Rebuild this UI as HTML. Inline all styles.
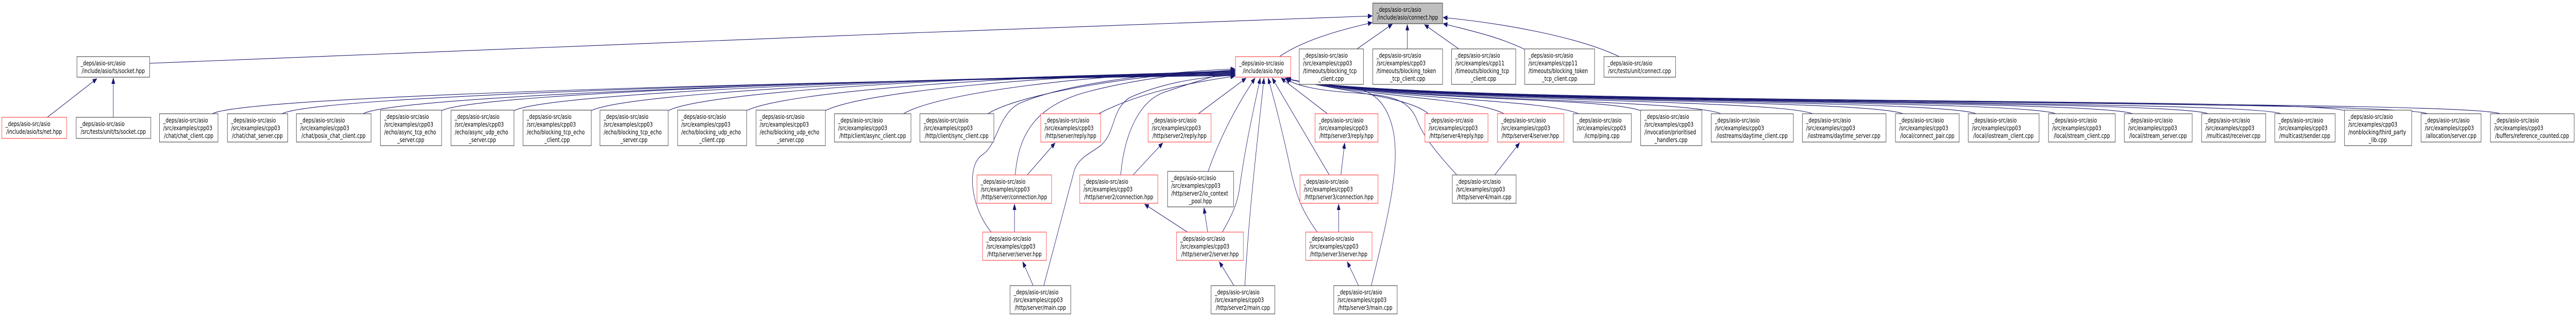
<!DOCTYPE html>
<html><head><meta charset="utf-8"><style>
html,body{margin:0;padding:0;background:#fff;width:100%;height:100%;overflow:hidden;}
svg{display:block;width:100vw;height:100vh;}
text{font-family:"DejaVu Sans","Liberation Sans",sans-serif;font-size:12.6px;fill:#000;}
.c{text-anchor:middle;}
.b{fill:#fff;stroke:#505050;stroke-width:1.2;}
.r{fill:#fff;stroke:#ff4a4a;stroke-width:1.2;}
.g{fill:#bfbfbf;stroke:#404040;stroke-width:1.2;}
path.e{fill:none;stroke:#191970;stroke-width:1.1;marker-end:url(#a);}
</style></head><body>
<svg viewBox="0 0 6866 616" preserveAspectRatio="none" xmlns="http://www.w3.org/2000/svg">
<defs><marker id="a" markerUnits="userSpaceOnUse" markerWidth="12" markerHeight="9" refX="11" refY="4.5" orient="auto"><path d="M0,0 L11,4.5 L0,9 z" fill="#191970" stroke="#191970"/></marker></defs>

<!-- edges -->
<path class="e" d="M399,123 C1200,95 2600,60 3657,31"/>
<path class="e" d="M3410,110 C3470,80 3560,60 3657,44"/>
<path class="e" d="M3617,95 L3711,47"/>
<path class="e" d="M3751,95 L3751,48"/>
<path class="e" d="M3888,95 L3797,48"/>
<path class="e" d="M4064,96 C3990,70 3920,60 3847,46"/>
<path class="e" d="M4316,110 C4200,70 4000,45 3847,34"/>
<path class="e" d="M126,228 L258,153"/>
<path class="e" d="M302,228 L302,152"/>

<path class="e" d="M566,221 C666,181 2600,152 3291,147"/>
<path class="e" d="M752,221 C852,181 2600,151 3291,146"/>
<path class="e" d="M968,221 C1068,181 2600,150 3291,145"/>
<path class="e" d="M1177,215 C1277,178 2600,149 3291,144"/>
<path class="e" d="M1370,215 C1470,178 2600,148 3291,143"/>
<path class="e" d="M1576,215 C1676,178 2600,147 3291,142"/>
<path class="e" d="M1781,215 C1881,178 2600,146 3291,141"/>
<path class="e" d="M1990,215 C2090,178 2700,145 3291,140"/>
<path class="e" d="M2200,215 C2300,178 2800,144 3291,139"/>
<path class="e" d="M2408,221 C2500,181 2900,143 3291,138"/>
<path class="e" d="M2633,221 C2720,181 3050,142 3291,137"/>
<path class="e" d="M2928,221 C3050,175 3200,158 3291,148"/>
<path class="e" d="M2706,340 C2715,260 2760,205 2900,178 C3050,150 3200,140 3291,136"/>
<path class="e" d="M2738,340 L2812,278"/>
<path class="e" d="M2704,451 L2704,397"/>
<path class="e" d="M2642,451 C2585,400 2575,320 2620,300 C2660,280 2660,220 2720,200 C2850,160 3100,140 3291,134"/>
<path class="e" d="M2754,555 L2726,509"/>
<path class="e" d="M2782,555 L2862,335 C2870,310 2900,300 2930,285 C2975,260 2960,215 3010,190 C3100,160 3200,150 3291,146"/>
<path class="e" d="M3194,221 L3321,152"/>
<path class="e" d="M2987,340 C2995,270 3030,200 3100,180 C3180,160 3250,145 3291,137"/>
<path class="e" d="M3020,340 L3099,278"/>
<path class="e" d="M3220,333 C3260,250 3310,190 3345,152"/>
<path class="e" d="M3165,451 L3051,397"/>
<path class="e" d="M3219,451 L3209,404"/>
<path class="e" d="M3258,451 C3290,410 3300,390 3305,360 C3320,280 3345,200 3359,152"/>
<path class="e" d="M3289,555 L3250,509"/>
<path class="e" d="M3318,555 C3330,400 3355,250 3369,152"/>
<path class="e" d="M3538,221 L3415,152"/>
<path class="e" d="M3543,340 L3391,152"/>
<path class="e" d="M3574,340 L3584,278"/>
<path class="e" d="M3568,451 L3568,397"/>
<path class="e" d="M3511,451 C3470,410 3455,380 3440,330 C3420,260 3395,190 3380,152"/>
<path class="e" d="M3621,555 L3591,509"/>
<path class="e" d="M3655,555 C3700,420 3730,330 3715,260 C3700,200 3660,175 3600,170 C3520,165 3460,160 3426,152"/>
<path class="e" d="M3984,340 L4050,278"/>
<path class="e" d="M3883,340 C3820,290 3790,260 3775,230 C3750,190 3700,185 3600,180 C3500,175 3450,165 3427,153"/>
<path class="e" d="M3807,221 C3760,190 3600,180 3429,153"/>
<path class="e" d="M4009,221 C3930,190 3650,190 3430,153"/>
<path class="e" d="M4208,221 C4108,191 3700,195 3430,153"/>
<path class="e" d="M4373,215 C4273,188 3700,197 3430,153"/>
<path class="e" d="M4587,221 C4487,191 3700,198 3430,153"/>
<path class="e" d="M4831,221 C4731,191 3700,199 3430,153"/>
<path class="e" d="M5072,221 C4972,191 3700,200 3430,153"/>
<path class="e" d="M5267,221 C5167,191 3700,201 3430,153"/>
<path class="e" d="M5479,221 C5379,191 3700,202 3430,153"/>
<path class="e" d="M5684,221 C5584,191 3700,203 3430,153"/>
<path class="e" d="M5885,221 C5785,191 3700,204 3430,153"/>
<path class="e" d="M6080,221 C5980,191 3700,205 3430,153"/>
<path class="e" d="M6249,215 C6149,188 3700,206 3430,153"/>
<path class="e" d="M6470,221 C6370,191 3700,207 3430,153"/>
<path class="e" d="M6664,221 C6564,191 3700,208 3430,153"/>

<!-- row 0 -->
<rect class="g" x="3659" y="6" width="186" height="40"/>
<text x="3669" y="23">_deps/asio-src/asio</text><text class="c" x="3752" y="38">/include/asio/connect.hpp</text>

<!-- row 1 -->
<rect class="b" x="205" y="110" width="194" height="40"/>
<text x="215" y="127">_deps/asio-src/asio</text><text class="c" x="302" y="142">/include/asio/ts/socket.hpp</text>
<rect class="r" x="3293" y="110" width="147" height="40"/>
<text x="3303" y="127">_deps/asio-src/asio</text><text class="c" x="3366" y="142">/include/asio.hpp</text>
<rect class="b" x="3463" y="95" width="171" height="69"/>
<text x="3473" y="112">_deps/asio-src/asio</text><text x="3473" y="127">/src/examples/cpp03</text><text x="3473" y="142">/timeouts/blocking_tcp</text><text class="c" x="3548" y="157">_client.cpp</text>
<rect class="b" x="3659" y="95" width="186" height="69"/>
<text x="3669" y="112">_deps/asio-src/asio</text><text x="3669" y="127">/src/examples/cpp03</text><text x="3669" y="142">/timeouts/blocking_token</text><text class="c" x="3752" y="157">_tcp_client.cpp</text>
<rect class="b" x="3869" y="95" width="171" height="69"/>
<text x="3879" y="112">_deps/asio-src/asio</text><text x="3879" y="127">/src/examples/cpp11</text><text x="3879" y="142">/timeouts/blocking_tcp</text><text class="c" x="3954" y="157">_client.cpp</text>
<rect class="b" x="4064" y="95" width="186" height="69"/>
<text x="4074" y="112">_deps/asio-src/asio</text><text x="4074" y="127">/src/examples/cpp11</text><text x="4074" y="142">/timeouts/blocking_token</text><text class="c" x="4157" y="157">_tcp_client.cpp</text>
<rect class="b" x="4275" y="110" width="191" height="40"/>
<text x="4285" y="127">_deps/asio-src/asio</text><text class="c" x="4370" y="142">/src/tests/unit/connect.cpp</text>

<!-- row 2 -->
<rect class="r" x="5" y="228" width="173" height="41"/>
<text x="15" y="245">_deps/asio-src/asio</text><text class="c" x="91" y="260">/include/asio/ts/net.hpp</text>
<rect class="b" x="203" y="228" width="199" height="41"/>
<text x="213" y="245">_deps/asio-src/asio</text><text class="c" x="302" y="260">/src/tests/unit/ts/socket.cpp</text>

<rect class="b" x="425" y="221" width="156" height="55"/>
<text x="435" y="238">_deps/asio-src/asio</text><text x="435" y="253">/src/examples/cpp03</text><text class="c" x="503" y="268">/chat/chat_client.cpp</text>
<rect class="b" x="606" y="221" width="161" height="55"/>
<text x="616" y="238">_deps/asio-src/asio</text><text x="616" y="253">/src/examples/cpp03</text><text class="c" x="686" y="268">/chat/chat_server.cpp</text>
<rect class="b" x="790" y="221" width="199" height="55"/>
<text x="800" y="238">_deps/asio-src/asio</text><text x="800" y="253">/src/examples/cpp03</text><text class="c" x="889" y="268">/chat/posix_chat_client.cpp</text>
<rect class="b" x="1014" y="214" width="163" height="69"/>
<text x="1024" y="231">_deps/asio-src/asio</text><text x="1024" y="246">/src/examples/cpp03</text><text x="1024" y="261">/echo/async_tcp_echo</text><text class="c" x="1095" y="276">_server.cpp</text>
<rect class="b" x="1202" y="214" width="168" height="69"/>
<text x="1212" y="231">_deps/asio-src/asio</text><text x="1212" y="246">/src/examples/cpp03</text><text x="1212" y="261">/echo/async_udp_echo</text><text class="c" x="1286" y="276">_server.cpp</text>
<rect class="b" x="1394" y="214" width="182" height="69"/>
<text x="1404" y="231">_deps/asio-src/asio</text><text x="1404" y="246">/src/examples/cpp03</text><text x="1404" y="261">/echo/blocking_tcp_echo</text><text class="c" x="1485" y="276">_client.cpp</text>
<rect class="b" x="1599" y="214" width="182" height="69"/>
<text x="1609" y="231">_deps/asio-src/asio</text><text x="1609" y="246">/src/examples/cpp03</text><text x="1609" y="261">/echo/blocking_tcp_echo</text><text class="c" x="1690" y="276">_server.cpp</text>
<rect class="b" x="1806" y="214" width="184" height="69"/>
<text x="1816" y="231">_deps/asio-src/asio</text><text x="1816" y="246">/src/examples/cpp03</text><text x="1816" y="261">/echo/blocking_udp_echo</text><text class="c" x="1898" y="276">_client.cpp</text>
<rect class="b" x="2015" y="214" width="185" height="69"/>
<text x="2025" y="231">_deps/asio-src/asio</text><text x="2025" y="246">/src/examples/cpp03</text><text x="2025" y="261">/echo/blocking_udp_echo</text><text class="c" x="2107" y="276">_server.cpp</text>
<rect class="b" x="2224" y="221" width="204" height="55"/>
<text x="2234" y="238">_deps/asio-src/asio</text><text x="2234" y="253">/src/examples/cpp03</text><text class="c" x="2326" y="268">/http/client/async_client.cpp</text>
<rect class="b" x="2452" y="221" width="197" height="55"/>
<text x="2462" y="238">_deps/asio-src/asio</text><text x="2462" y="253">/src/examples/cpp03</text><text class="c" x="2550" y="268">/http/client/sync_client.cpp</text>
<rect class="r" x="2774" y="221" width="160" height="55"/>
<text x="2784" y="238">_deps/asio-src/asio</text><text x="2784" y="253">/src/examples/cpp03</text><text class="c" x="2854" y="268">/http/server/reply.hpp</text>
<rect class="r" x="3060" y="221" width="168" height="55"/>
<text x="3070" y="238">_deps/asio-src/asio</text><text x="3070" y="253">/src/examples/cpp03</text><text class="c" x="3144" y="268">/http/server2/reply.hpp</text>
<rect class="r" x="3505" y="221" width="168" height="55"/>
<text x="3515" y="238">_deps/asio-src/asio</text><text x="3515" y="253">/src/examples/cpp03</text><text class="c" x="3589" y="268">/http/server3/reply.hpp</text>
<rect class="r" x="3798" y="221" width="168" height="55"/>
<text x="3808" y="238">_deps/asio-src/asio</text><text x="3808" y="253">/src/examples/cpp03</text><text class="c" x="3882" y="268">/http/server4/reply.hpp</text>
<rect class="r" x="3991" y="221" width="177" height="55"/>
<text x="4001" y="238">_deps/asio-src/asio</text><text x="4001" y="253">/src/examples/cpp03</text><text class="c" x="4079" y="268">/http/server4/server.hpp</text>
<rect class="b" x="4193" y="221" width="155" height="55"/>
<text x="4203" y="238">_deps/asio-src/asio</text><text x="4203" y="253">/src/examples/cpp03</text><text class="c" x="4270" y="268">/icmp/ping.cpp</text>
<rect class="b" x="4373" y="214" width="163" height="69"/>
<text x="4383" y="231">_deps/asio-src/asio</text><text x="4383" y="246">/src/examples/cpp03</text><text x="4383" y="261">/invocation/prioritised</text><text class="c" x="4454" y="276">_handlers.cpp</text>
<rect class="b" x="4561" y="221" width="219" height="55"/>
<text x="4571" y="238">_deps/asio-src/asio</text><text x="4571" y="253">/src/examples/cpp03</text><text class="c" x="4670" y="268">/iostreams/daytime_client.cpp</text>
<rect class="b" x="4804" y="221" width="223" height="55"/>
<text x="4814" y="238">_deps/asio-src/asio</text><text x="4814" y="253">/src/examples/cpp03</text><text class="c" x="4915" y="268">/iostreams/daytime_server.cpp</text>
<rect class="b" x="5052" y="221" width="170" height="55"/>
<text x="5062" y="238">_deps/asio-src/asio</text><text x="5062" y="253">/src/examples/cpp03</text><text class="c" x="5137" y="268">/local/connect_pair.cpp</text>
<rect class="b" x="5246" y="221" width="189" height="55"/>
<text x="5256" y="238">_deps/asio-src/asio</text><text x="5256" y="253">/src/examples/cpp03</text><text class="c" x="5340" y="268">/local/iostream_client.cpp</text>
<rect class="b" x="5460" y="221" width="178" height="55"/>
<text x="5470" y="238">_deps/asio-src/asio</text><text x="5470" y="253">/src/examples/cpp03</text><text class="c" x="5549" y="268">/local/stream_client.cpp</text>
<rect class="b" x="5662" y="221" width="181" height="55"/>
<text x="5672" y="238">_deps/asio-src/asio</text><text x="5672" y="253">/src/examples/cpp03</text><text class="c" x="5752" y="268">/local/stream_server.cpp</text>
<rect class="b" x="5868" y="221" width="171" height="55"/>
<text x="5878" y="238">_deps/asio-src/asio</text><text x="5878" y="253">/src/examples/cpp03</text><text class="c" x="5953" y="268">/multicast/receiver.cpp</text>
<rect class="b" x="6063" y="221" width="161" height="55"/>
<text x="6073" y="238">_deps/asio-src/asio</text><text x="6073" y="253">/src/examples/cpp03</text><text class="c" x="6143" y="268">/multicast/sender.cpp</text>
<rect class="b" x="6249" y="214" width="179" height="69"/>
<text x="6259" y="231">_deps/asio-src/asio</text><text x="6259" y="246">/src/examples/cpp03</text><text x="6259" y="261">/nonblocking/third_party</text><text class="c" x="6338" y="276">_lib.cpp</text>
<rect class="b" x="6453" y="221" width="160" height="55"/>
<text x="6463" y="238">_deps/asio-src/asio</text><text x="6463" y="253">/src/examples/cpp03</text><text class="c" x="6533" y="268">/allocation/server.cpp</text>
<rect class="b" x="6638" y="221" width="223" height="55"/>
<text x="6648" y="238">_deps/asio-src/asio</text><text x="6648" y="253">/src/examples/cpp03</text><text class="c" x="6749" y="268">/buffers/reference_counted.cpp</text>

<!-- row 3 -->
<rect class="r" x="2604" y="340" width="199" height="55"/>
<text x="2614" y="357">_deps/asio-src/asio</text><text x="2614" y="372">/src/examples/cpp03</text><text class="c" x="2703" y="387">/http/server/connection.hpp</text>
<rect class="r" x="2878" y="340" width="208" height="55"/>
<text x="2888" y="357">_deps/asio-src/asio</text><text x="2888" y="372">/src/examples/cpp03</text><text class="c" x="2982" y="387">/http/server2/connection.hpp</text>
<rect class="b" x="3112" y="333" width="176" height="69"/>
<text x="3122" y="350">_deps/asio-src/asio</text><text x="3122" y="365">/src/examples/cpp03</text><text x="3122" y="380">/http/server2/io_context</text><text class="c" x="3200" y="395">_pool.hpp</text>
<rect class="r" x="3465" y="340" width="208" height="55"/>
<text x="3475" y="357">_deps/asio-src/asio</text><text x="3475" y="372">/src/examples/cpp03</text><text class="c" x="3569" y="387">/http/server3/connection.hpp</text>
<rect class="b" x="3871" y="340" width="170" height="55"/>
<text x="3881" y="357">_deps/asio-src/asio</text><text x="3881" y="372">/src/examples/cpp03</text><text class="c" x="3956" y="387">/http/server4/main.cpp</text>

<!-- row 4 -->
<rect class="r" x="2619" y="451" width="170" height="55"/>
<text x="2629" y="468">_deps/asio-src/asio</text><text x="2629" y="483">/src/examples/cpp03</text><text class="c" x="2704" y="498">/http/server/server.hpp</text>
<rect class="r" x="3136" y="451" width="178" height="55"/>
<text x="3146" y="468">_deps/asio-src/asio</text><text x="3146" y="483">/src/examples/cpp03</text><text class="c" x="3225" y="498">/http/server2/server.hpp</text>
<rect class="r" x="3480" y="451" width="177" height="55"/>
<text x="3490" y="468">_deps/asio-src/asio</text><text x="3490" y="483">/src/examples/cpp03</text><text class="c" x="3568" y="498">/http/server3/server.hpp</text>

<!-- row 5 -->
<rect class="b" x="2692" y="555" width="162" height="55"/>
<text x="2702" y="572">_deps/asio-src/asio</text><text x="2702" y="587">/src/examples/cpp03</text><text class="c" x="2773" y="602">/http/server/main.cpp</text>
<rect class="b" x="3228" y="555" width="170" height="55"/>
<text x="3238" y="572">_deps/asio-src/asio</text><text x="3238" y="587">/src/examples/cpp03</text><text class="c" x="3313" y="602">/http/server2/main.cpp</text>
<rect class="b" x="3555" y="555" width="169" height="55"/>
<text x="3565" y="572">_deps/asio-src/asio</text><text x="3565" y="587">/src/examples/cpp03</text><text class="c" x="3639" y="602">/http/server3/main.cpp</text>
</svg>
</body></html>
